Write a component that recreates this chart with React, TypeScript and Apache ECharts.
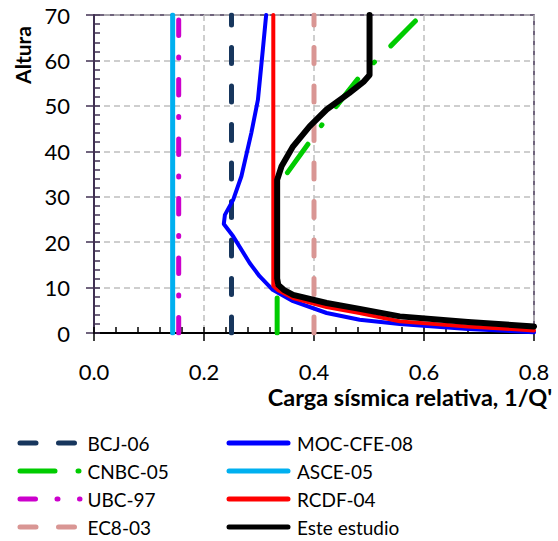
import React, { useEffect, useRef } from "react";
import * as echarts from "echarts";

// ---- data ----
const xTicks = [0, 0.2, 0.4, 0.6, 0.8];
const yTicks = [0, 10, 20, 30, 40, 50, 60, 70];

const bcj06: number[][] = [[0.25, 0], [0.25, 70]];
const asce05: number[][] = [[0.143, 0], [0.143, 70]];
const ubc97: number[][] = [[0.154, 0], [0.154, 70]];
const ec803: number[][] = [[0.4, 0], [0.4, 70]];
const cnbc05: number[][] = [
  [0.333, 0], [0.333, 32.5], [0.347, 34.5], [0.419, 46.6], [0.486, 56.9],
  [0.52, 60.8], [0.565, 66.3], [0.595, 70],
];
const mocCfe08: number[][] = [
  [0.8, 0.15], [0.68, 0.9], [0.556, 2.0], [0.483, 2.9], [0.423, 4.4],
  [0.362, 7.0], [0.325, 9.5], [0.301, 12.5], [0.283, 15.4], [0.253, 21.3],
  [0.236, 24], [0.238, 26], [0.253, 29.3], [0.268, 34.5], [0.286, 44],
  [0.298, 51.3], [0.307, 62.4], [0.313, 70],
];
const rcdf04: number[][] = [
  [0.8, 0.57], [0.68, 1.45], [0.556, 2.56], [0.483, 4.4], [0.423, 5.7],
  [0.362, 7.7], [0.335, 9.4], [0.326, 10.4], [0.326, 70],
];
const esteEstudio: number[][] = [
  [0.8, 1.45], [0.68, 2.4], [0.556, 3.66], [0.483, 5.3], [0.423, 6.6],
  [0.362, 8.4], [0.345, 9.5], [0.335, 10.6], [0.333, 12], [0.333, 33.7],
  [0.341, 36.7], [0.362, 41.1], [0.392, 45.5], [0.423, 49.2], [0.464, 52.8],
  [0.491, 55.4], [0.501, 56.8], [0.501, 70],
];

const FONT = "Lato";
const AXIS_PURPLE = "#403152";

export default function App() {
  const ref = useRef<HTMLDivElement>(null);
  useEffect(() => {
    if (!ref.current) return;
    const chart = echarts.init(ref.current, undefined, { renderer: "svg" });

    const line = (name: string, data: number[][], color: string, width: number, type: any, z: number) => ({
      name,
      type: "line",
      data,
      symbol: "none",
      showSymbol: false,
      z,
      lineStyle: { color, width, type, cap: "round", join: "round" },
      itemStyle: { color },
      emphasis: { disabled: true },
    });

    const legendText = { fontFamily: FONT, fontSize: 19, color: "#000", lineHeight: 20 };

    chart.setOption({
      animation: false,
      textStyle: { fontFamily: FONT },
      grid: {
        left: 94, right: 24, top: 15, bottom: 208,
        show: true, borderColor: AXIS_PURPLE, borderWidth: 1.5, backgroundColor: "transparent",
      },
      xAxis: [
        {
          type: "value", min: xTicks[0], max: xTicks[xTicks.length - 1], interval: 0.2, position: "bottom",
          axisLine: { show: true, onZero: false, lineStyle: { color: "#000", width: 2 } },
          axisTick: { show: true, inside: false, length: 8, lineStyle: { color: "#000", width: 1.5 } },
          axisLabel: { show: true, margin: 27, fontFamily: FONT, fontSize: 22, color: "#000", formatter: (v: number) => v.toFixed(1) },
          splitLine: { show: true, lineStyle: { color: "#BFBFBF", width: 1.5, type: [6, 4] } },
        },
        {
          type: "value", min: xTicks[0], max: xTicks[xTicks.length - 1], interval: 0.2, position: "bottom",
          axisLine: { show: false, onZero: false },
          axisTick: { show: true, inside: true, length: 6, lineStyle: { color: "#000", width: 1.5 } },
          minorTick: { show: true, splitNumber: 5, length: 6, lineStyle: { color: "#000", width: 1.5 } },
          axisLabel: { show: false },
          splitLine: { show: false },
        },
      ],
      yAxis: [
        {
          type: "value", min: yTicks[0], max: yTicks[yTicks.length - 1], interval: 10, position: "left",
          axisLine: { show: true, onZero: false, lineStyle: { color: AXIS_PURPLE, width: 2 } },
          axisTick: { show: true, inside: false, length: 8, lineStyle: { color: AXIS_PURPLE, width: 1.5 } },
          axisLabel: { show: true, margin: 24, fontFamily: FONT, fontSize: 22, color: "#000" },
          splitLine: { show: true, lineStyle: { color: "#BFBFBF", width: 1.5, type: [6, 4] } },
        },
        {
          type: "value", min: yTicks[0], max: yTicks[yTicks.length - 1], interval: 10, position: "left",
          axisLine: { show: false, onZero: false },
          axisTick: { show: true, inside: true, length: 6, lineStyle: { color: AXIS_PURPLE, width: 1.5 } },
          minorTick: { show: true, splitNumber: 5, length: 6, lineStyle: { color: AXIS_PURPLE, width: 1.5 } },
          axisLabel: { show: false },
          splitLine: { show: false },
        },
      ],
      legend: [
        {
          orient: "vertical", left: 17.5, top: 433, padding: 0, itemGap: 8,
          itemWidth: 60, itemHeight: 14, selectedMode: false,
          itemStyle: { opacity: 0 },
          lineStyle: { width: 5 },
          textStyle: { ...legendText, padding: [0, 0, 0, 2.5] },
          data: ["BCJ-06", "CNBC-05", "UBC-97", "EC8-03"],
        },
        {
          orient: "vertical", left: 226.5, top: 433, padding: 0, itemGap: 8,
          itemWidth: 59, itemHeight: 14, selectedMode: false,
          itemStyle: { opacity: 0 },
          lineStyle: { width: 5 },
          textStyle: { ...legendText, padding: [0, 0, 0, 4] },
          data: ["MOC-CFE-08", "ASCE-05", "RCDF-04", "Este estudio"],
        },
      ],
      graphic: [
        {
          type: "text", x: 22, y: 55, rotation: Math.PI / 2,
          style: { text: "Altura", fontFamily: FONT, fontSize: 21, fontWeight: "bold", fill: "#000", align: "center", verticalAlign: "middle" },
        },
        {
          type: "text", x: 410, y: 397,
          style: { text: "Carga sísmica relativa, 1/Q'", fontFamily: FONT, fontSize: 23.5, fontWeight: "bold", fill: "#000", align: "center", verticalAlign: "middle" },
        },
      ],
      series: [
        line("ASCE-05", asce05, "#00B0F0", 5, "solid", 2),
        line("UBC-97", ubc97, "#CC00CC", 5, [15.5, 21.5, 1, 21.5], 3),
        line("BCJ-06", bcj06, "#17365D", 5, [16, 22.5], 3),
        line("EC8-03", ec803, "#D99694", 5, [16, 22.5], 3),
        line("CNBC-05", cnbc05, "#00CC00", 5, [35, 23, 1, 23], 4),
        line("MOC-CFE-08", mocCfe08, "#0000FF", 4, "solid", 5),
        line("RCDF-04", rcdf04, "#FF0000", 4, "solid", 6),
        line("Este estudio", esteEstudio, "#000000", 6, "solid", 7),
      ],
    });
    return () => chart.dispose();
  }, []);

  return <div ref={ref} style={{ width: 558, height: 541, position: "absolute", left: 0, top: 0 }} />;
}
